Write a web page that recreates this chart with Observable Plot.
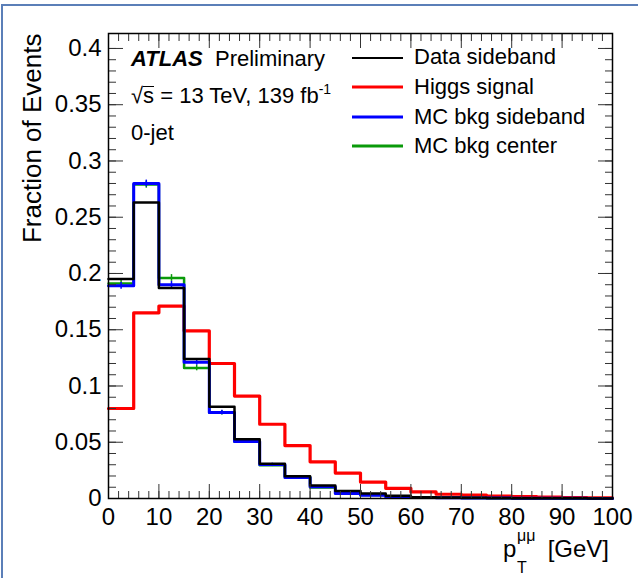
<!DOCTYPE html>
<html>
<head>
<meta charset="utf-8">
<script src="https://cdn.jsdelivr.net/npm/d3@7"></script>
<script src="https://cdn.jsdelivr.net/npm/@observablehq/plot@0.6"></script>
<style>
html, body { margin: 0; padding: 0; background: #fff; }
#wrap { position: relative; width: 638px; height: 578px; overflow: hidden; font-family: "Liberation Sans", Arial, sans-serif; color: #000; }
#wrap svg { position: absolute; left: 0; top: 0; }
.border { position: absolute; left: 1px; top: 4px; width: 700px; height: 700px; border-left: 2px solid #5b7fb8; border-top: 2px solid #5b7fb8; }
.t { position: absolute; white-space: nowrap; line-height: 1; }
.sup { position: relative; font-size: 14px; top: -9px; }
.ol { border-top: 1.5px solid #000; padding-top: 0px; display: inline-block; line-height: 0.8; }
</style>
</head>
<body>
<div id="wrap"><div class="border"></div></div>
<script>
// ---- data ----
const binLow = [0, 5, 10, 15, 20, 25, 30, 35, 40, 45, 50, 55, 60, 65, 70, 75, 80, 85, 90, 95];
const binWidth = 5;
const dataSideband  = [0.195, 0.263, 0.187, 0.124, 0.0815, 0.0527, 0.0308, 0.0198, 0.0115, 0.0066, 0.0045, 0.0024, 0.0012, 0.0008, 0.0006, 0.0004, 0.0003, 0.0002, 0.0002, 0.0001];
const higgsSignal   = [0.080, 0.165, 0.171, 0.149, 0.120, 0.091, 0.066, 0.047, 0.0326, 0.0226, 0.0146, 0.0090, 0.0058, 0.0038, 0.0030, 0.0021, 0.0017, 0.0012, 0.0009, 0.0006];
const mcBkgSideband = [0.189, 0.280, 0.190, 0.121, 0.0764, 0.0507, 0.0302, 0.0187, 0.0105, 0.0045, 0.0030, 0.0016, 0.0010, 0.0007, 0.0005, 0.0004, 0.0003, 0.0002, 0.0002, 0.0001];
const mcBkgCenter   = [0.191, 0.279, 0.196, 0.116, 0.0762, 0.0505, 0.0296, 0.0192, 0.0097, 0.0052, 0.0031, 0.0017, 0.0009, 0.0006, 0.0004, 0.0002, 0.0002, 0.0002, 0.0001, 0.0001];
const mcSidebandErr = [0.003, 0.003, 0.003, 0.0025, 0.002, 0.0015, 0.0012, 0.001, 0.0008, 0.0006, 0.0005, 0.0004, 0.0003, 0.0003, 0.0002, 0.0002, 0.0002, 0.0001, 0.0001, 0.0001];
const mcCenterErr   = [0.0032, 0.0032, 0.003, 0.0025, 0.002, 0.0015, 0.0012, 0.001, 0.0008, 0.0006, 0.0005, 0.0004, 0.0003, 0.0003, 0.0002, 0.0002, 0.0002, 0.0001, 0.0001, 0.0001];

const seriesNames  = ["Data sideband", "Higgs signal", "MC bkg sideband", "MC bkg center"];
const seriesColors = ["#000000", "#ff0000", "#0000ff", "#0a9a0a"];

const xTicks = [0, 10, 20, 30, 40, 50, 60, 70, 80, 90, 100];
const xMinorTicks = [0, 2, 4, 6, 8, 10, 12, 14, 16, 18, 20, 22, 24, 26, 28, 30, 32, 34, 36, 38, 40, 42, 44, 46, 48, 50, 52, 54, 56, 58, 60, 62, 64, 66, 68, 70, 72, 74, 76, 78, 80, 82, 84, 86, 88, 90, 92, 94, 96, 98, 100];
const yTicks = [0, 0.05, 0.1, 0.15, 0.2, 0.25, 0.3, 0.35, 0.4];
const yMinorTicks = d3.range(0, 41).map(i => i / 100);

const FONT = '"Liberation Sans", Arial, Helvetica, sans-serif';

// step outline of a histogram built from bin edges and values
function steps(vals) {
  const pts = [];
  vals.forEach((v, i) => {
    pts.push({x: binLow[i], y: v});
    pts.push({x: binLow[i] + binWidth, y: v});
  });
  return pts;
}
function errs(vals, e) {
  return vals.map((v, i) => ({x: binLow[i] + binWidth / 2, lo: v - e[i], hi: v + e[i]}));
}

const chart = Plot.plot({
  width: 638,
  height: 578,
  marginLeft: 108,
  marginRight: 26,
  marginTop: 33,
  marginBottom: 80,
  x: {domain: [0, 100], label: null},
  y: {domain: [0, 0.4133], label: null},
  style: {fontFamily: FONT, background: "transparent", color: "#000", overflow: "visible"},
  marks: [
    // histograms
    Plot.line(steps(higgsSignal), {x: "x", y: "y", stroke: seriesColors[1], strokeWidth: 3.2}),
    Plot.line(steps(mcBkgCenter), {x: "x", y: "y", stroke: seriesColors[3], strokeWidth: 2.5}),
    Plot.ruleX(errs(mcBkgCenter, mcCenterErr), {x: "x", y1: "lo", y2: "hi", stroke: seriesColors[3], strokeWidth: 1.5}),
    Plot.line(steps(mcBkgSideband), {x: "x", y: "y", stroke: seriesColors[2], strokeWidth: 3}),
    Plot.ruleX(errs(mcBkgSideband, mcSidebandErr), {x: "x", y1: "lo", y2: "hi", stroke: seriesColors[2], strokeWidth: 1.5}),
    Plot.line(steps(dataSideband), {x: "x", y: "y", stroke: seriesColors[0], strokeWidth: 2.5}),
    // tick labels
    Plot.axisX(xTicks, {tickSize: 0, tickPadding: 9, fontSize: 24, tickFormat: d => String(d), label: null}),
    Plot.axisY(yTicks, {tickSize: 0, tickPadding: 7, fontSize: 24, tickFormat: d => String(+d.toFixed(2)), label: null}),
    // inward ticks on all four sides
    Plot.axisX(xTicks, {anchor: "bottom", tickSize: -14, tickFormat: () => "", label: null, stroke: "#333"}),
    Plot.axisX(xMinorTicks, {anchor: "bottom", tickSize: -7, tickFormat: () => "", label: null, stroke: "#333"}),
    Plot.axisX(xTicks, {anchor: "top", tickSize: -14, tickFormat: () => "", label: null, stroke: "#333"}),
    Plot.axisX(xMinorTicks, {anchor: "top", tickSize: -7, tickFormat: () => "", label: null, stroke: "#333"}),
    Plot.axisY(yTicks, {anchor: "left", tickSize: -15, tickFormat: () => "", label: null, stroke: "#333"}),
    Plot.axisY(yMinorTicks, {anchor: "left", tickSize: -8, tickFormat: () => "", label: null, stroke: "#333"}),
    Plot.axisY(yTicks, {anchor: "right", tickSize: -15, tickFormat: () => "", label: null, stroke: "#333"}),
    Plot.axisY(yMinorTicks, {anchor: "right", tickSize: -8, tickFormat: () => "", label: null, stroke: "#333"}),
    Plot.frame({stroke: "#000", strokeWidth: 1.5}),
    // y axis title
    Plot.text(["Fraction of Events"], {frameAnchor: "top-left", dx: -76, dy: 0, rotate: -90, textAnchor: "end", lineAnchor: "middle", fontSize: 26, fill: "#000"})
  ]
});

const wrap = document.getElementById("wrap");
wrap.appendChild(chart);

// overlays: annotations, legend, x title (rich text)
function place(html, x, baseline, size, extra = "") {
  const d = document.createElement("div");
  d.className = "t";
  d.style.left = x + "px";
  d.style.top = (baseline - 0.8465 * size) + "px";
  d.style.fontSize = size + "px";
  d.style.cssText += extra;
  d.innerHTML = html;
  wrap.appendChild(d);
  return d;
}
function placeRight(html, right, baseline, size) {
  const d = place(html, 0, baseline, size);
  d.style.left = "auto";
  d.style.right = (638 - right) + "px";
  return d;
}

place("ATLAS", 131, 67, 22, "font-weight:bold;font-style:italic;");
place("Preliminary", 215, 67, 22);
place('√<span class="ol">s</span> = 13 TeV, 139 fb<span class="sup">-1</span>', 131, 103.5, 22);
place("0-jet", 131, 141, 22);

const legendY = [57.5, 87.3, 117, 146];
const legendW = [2, 3.2, 3, 3];
seriesNames.forEach((name, i) => {
  const s = document.createElementNS("http://www.w3.org/2000/svg", "svg");
  s.setAttribute("width", 52);
  s.setAttribute("height", 8);
  s.style.position = "absolute";
  s.style.left = "352px";
  s.style.top = (legendY[i] - 4) + "px";
  const l = document.createElementNS("http://www.w3.org/2000/svg", "line");
  l.setAttribute("x1", 0); l.setAttribute("x2", 51);
  l.setAttribute("y1", 4); l.setAttribute("y2", 4);
  l.setAttribute("stroke", seriesColors[i]);
  l.setAttribute("stroke-width", legendW[i]);
  s.appendChild(l);
  wrap.appendChild(s);
  place(name, 414, legendY[i] + 7.5, 22);
});

// x axis title: p_T^{μμ} [GeV]
place("p", 503, 557, 24);
place("μμ", 517, 542, 16);
place("T", 517, 574, 16);
placeRight("[GeV]", 609, 557, 24);
</script>
</body>
</html>
